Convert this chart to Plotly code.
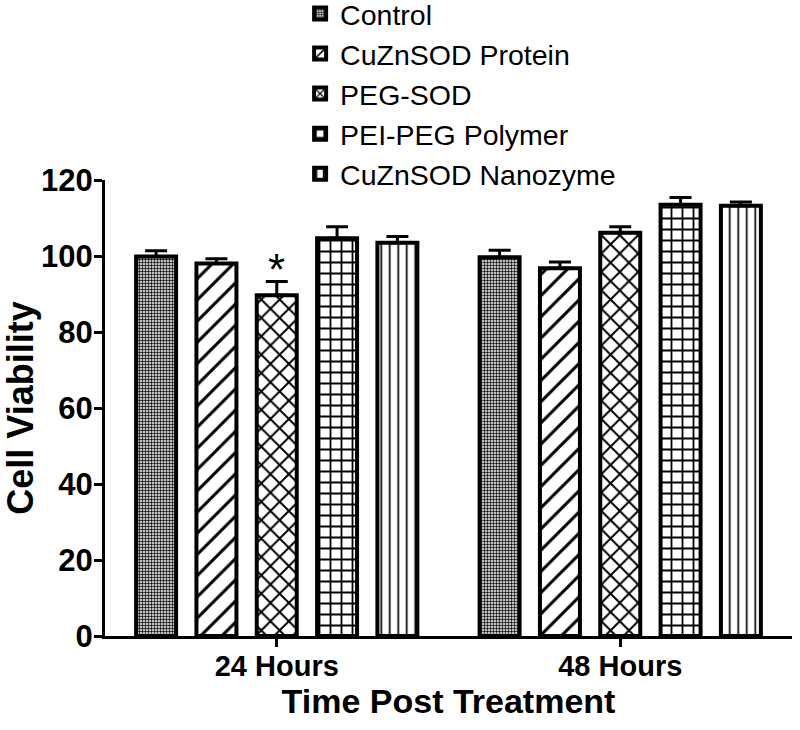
import plotly.graph_objects as go

groups = ["24 Hours", "48 Hours"]
series = ["Control", "CuZnSOD Protein", "PEG-SOD", "PEI-PEG Polymer", "CuZnSOD Nanozyme"]
control = [99.9, 99.7]
control_err = [1.5, 1.8]
protein = [98.0, 96.8]
protein_err = [1.3, 1.6]
peg_sod = [89.7, 106.1]
peg_sod_err = [3.6, 1.6]
pei_peg = [104.7, 113.5]
pei_peg_err = [3.0, 1.9]
nanozyme = [103.5, 113.2]
nanozyme_err = [1.6, 1.0]

values = [control, protein, peg_sod, pei_peg, nanozyme]
errors = [control_err, protein_err, peg_sod_err, pei_peg_err, nanozyme_err]
patterns = [
    dict(shape=".", size=3, solidity=0.5),
    dict(shape="/", size=15, solidity=0.2),
    dict(shape="x", size=13, solidity=0.28),
    dict(shape="+", size=11, solidity=0.3),
    dict(shape="|", size=8.5, solidity=0.2),
]

FONT = "Liberation Sans, Arial, sans-serif"

fig = go.Figure()
for name, v, e, p in zip(series, values, errors, patterns):
    fig.add_trace(go.Bar(
        name=name, x=groups, y=v,
        marker=dict(color="white",
                    line=dict(color="black", width=4),
                    pattern=dict(fgcolor="black", bgcolor="white", fillmode="replace",
                                 fgopacity=1, **p)),
        error_y=dict(type="data", array=e, arrayminus=[0] * len(e), symmetric=False,
                     color="black", thickness=3, width=11),
    ))

# significance marker on PEG-SOD at 24 h
fig.add_annotation(x=groups[0], y=peg_sod[0] + peg_sod_err[0], text="*", showarrow=False,
                   yanchor="middle", yshift=12, font=dict(family=FONT, size=44, color="black"))

fig.update_layout(
    width=800, height=730,
    paper_bgcolor="white", plot_bgcolor="white",
    barmode="group", bargap=0.122, bargroupgap=0.337,
    margin=dict(l=105, r=8, t=180, b=94, autoexpand=False),
    font=dict(family=FONT, color="black"),
    legend=dict(x=0.284, y=1.42, xanchor="left", yanchor="top",
                font=dict(family=FONT, size=28.5, color="black"),
                bgcolor="rgba(0,0,0,0)", tracegroupgap=0),
    showlegend=True,
)
fig.update_xaxes(
    range=[-0.5, 1.5], showline=True, linecolor="black", linewidth=3,
    ticks="outside", ticklen=8, tickwidth=3, tickcolor="black",
    ticklabelstandoff=-6, automargin=False,
    tickfont=dict(family=FONT, size=29, color="black", weight="bold"),
    title=dict(text="Time Post Treatment", standoff=8,
               font=dict(family=FONT, size=34, color="black", weight="bold")),
    showgrid=False, zeroline=False,
)
fig.update_yaxes(
    range=[0, 120], dtick=20, showline=True, linecolor="black", linewidth=3,
    ticks="outside", ticklen=8, tickwidth=3, tickcolor="black", automargin=False,
    ticklabelstandoff=-5,
    tickfont=dict(family=FONT, size=31, color="black", weight="bold"),
    title=dict(text="Cell Viability", standoff=0,
               font=dict(family=FONT, size=36, color="black", weight="bold")),
    showgrid=False, zeroline=False,
)

fig.write_html("out.html", config={"displayModeBar": False},
               post_script="document.body.style.margin='0';")
